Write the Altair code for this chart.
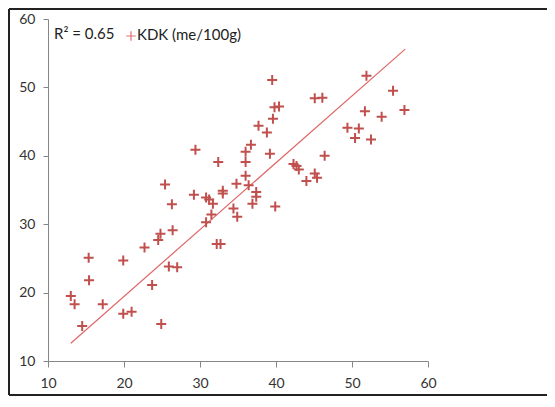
import altair as alt
import pandas as pd

x_vals = [13.0, 13.5, 14.5, 15.35, 15.4, 17.2, 19.9, 19.9, 21.0, 22.7, 23.7, 24.5, 24.8, 24.9, 25.4, 25.9, 26.3, 26.4, 27.0,
          29.4, 37.7, 38.8, 36.7, 36.0, 39.2, 32.4, 36.0, 36.0, 34.8, 36.4, 33.0, 33.0, 29.2, 37.4, 37.4, 36.9, 39.9,
          30.8, 31.2, 31.7, 31.5, 30.8, 34.4, 34.9, 32.2, 32.7,
          39.5, 39.8, 40.4, 39.6, 51.9, 45.1, 46.1, 55.4, 56.9, 51.7, 53.9, 49.4, 50.9, 50.4, 52.5, 46.4,
          42.3, 42.7, 43.0, 44.0, 45.1, 45.4]
y_vals = [19.5, 18.3, 15.1, 25.1, 21.8, 18.3, 24.7, 16.9, 17.2, 26.6, 21.1, 27.7, 28.6, 15.4, 35.8, 23.8, 32.9, 29.1, 23.7,
          40.9, 44.4, 43.4, 41.6, 40.6, 40.3, 39.1, 39.1, 37.1, 35.9, 35.7, 34.9, 34.5, 34.3, 34.7, 34.0, 33.0, 32.6,
          33.9, 33.6, 33.0, 31.4, 30.3, 32.3, 31.1, 27.1, 27.1,
          51.1, 47.1, 47.2, 45.4, 51.7, 48.4, 48.5, 49.5, 46.7, 46.5, 45.7, 44.1, 44.0, 42.6, 42.4, 40.0,
          38.8, 38.5, 38.0, 36.3, 37.4, 36.8]
# trendline as drawn in the reference (endpoints)
trend_x = [13.0, 57.0]
trend_y = [12.6, 55.6]
ticks = [10, 20, 30, 40, 50, 60]
series_name = "KDK (me/100g)"
r2_text = "R\u00b2 = 0.65"

df = pd.DataFrame({"x": x_vals, "y": y_vals})
tdf = pd.DataFrame({"x": trend_x, "y": trend_y})

FONT = "Lato"
MARK = "#C0504D"
AX = "#868686"

xs = alt.Scale(domain=[10, 60], nice=False, zero=False)
ys = alt.Scale(domain=[10, 60], nice=False, zero=False)

xaxis = alt.Axis(values=ticks, grid=False, domainColor=AX, tickColor=AX, tickSize=6,
                 labelFont=FONT, labelFontSize=14, labelColor="#333333", labelPadding=9,
                 labelFlush=False, title=None)
yaxis = alt.Axis(values=ticks, grid=False, domainColor=AX, tickColor=AX, tickSize=5,
                 labelFont=FONT, labelFontSize=14, labelColor="#333333", labelPadding=8,
                 labelFlush=False, title=None)

plus = "M-1,0L1,0M0,-1L0,1"

pts = alt.Chart(df).mark_point(shape=plus, filled=False, size=100, strokeWidth=2,
                               color=MARK, opacity=1).encode(
    x=alt.X("x:Q", scale=xs, axis=xaxis),
    y=alt.Y("y:Q", scale=ys, axis=yaxis),
)

line = alt.Chart(tdf).mark_line(color="#E06666", strokeWidth=1.2).encode(
    x=alt.X("x:Q", scale=xs),
    y=alt.Y("y:Q", scale=ys),
)

r2 = alt.Chart(pd.DataFrame({"t": [r2_text]})).mark_text(
    align="left", baseline="middle", font=FONT, fontSize=15, color="#222222").encode(
    text="t:N", x=alt.value(6), y=alt.value(15))

legsym = alt.Chart(pd.DataFrame({"t": ["+"]})).mark_point(
    shape=plus, filled=False, size=90, strokeWidth=1.2, color="#E07070", opacity=1).encode(
    x=alt.value(83), y=alt.value(17))

legtxt = alt.Chart(pd.DataFrame({"t": [series_name]})).mark_text(
    align="left", baseline="middle", font=FONT, fontSize=15, color="#222222").encode(
    text="t:N", x=alt.value(89), y=alt.value(16))

one = pd.DataFrame({"a": [0]})
b_top = alt.Chart(one).mark_rule(stroke="#222222", strokeWidth=2, clip=False).encode(
    x=alt.value(-39), x2=alt.value(560), y=alt.value(-10))
b_left = alt.Chart(one).mark_rule(stroke="#222222", strokeWidth=2, clip=False).encode(
    x=alt.value(-39), y=alt.value(-10), y2=alt.value(376))
b_bottom = alt.Chart(one).mark_rule(stroke="#222222", strokeWidth=2, clip=False).encode(
    x=alt.value(-39), x2=alt.value(560), y=alt.value(376))

chart = alt.layer(b_top, b_left, b_bottom, line, pts, r2, legsym, legtxt).properties(
    width=380, height=342,
    autosize=alt.AutoSizeParams(type="none"),
    padding={"left": 40, "top": 11, "right": 119, "bottom": 35},
).configure_view(stroke=None)

chart.save("out.html", embed_options={"renderer": "svg", "actions": False})
